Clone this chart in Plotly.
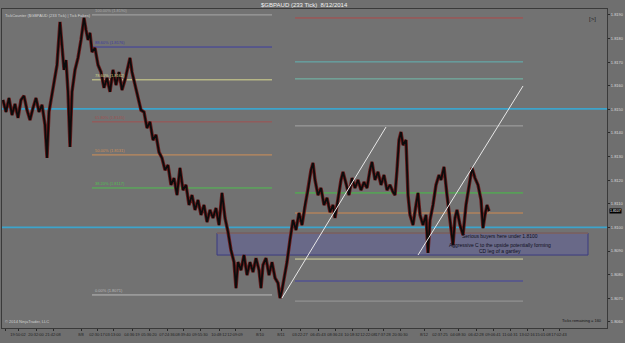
import plotly.graph_objects as go

# ---------------- data ----------------
bar_index = [1,4,7,10,13,16,19,22,25,28,31,34,37,40,43,45,47,50,53,55,58,60,62,64,66,68,70,73,76,79,82,84,86,88,90,93,96,99,102,105,108,111,114,117,120,123,126,128,130,133,136,139,142,145,148,151,154,157,160,163,166,169,172,175,178,181,184,187,190,193,196,199,202,205,208,211,214,217,220,223,226,229,232,234,236,239,242,245,248,251,254,257,259,261,264,267,270,273,276,278,280,282,285,288,291,294,297,300,303,306,309,311,313,316,319,322,325,328,331,333,336,339,341,344,347,350,353,356,359,362,365,368,370,373,376,379,382,385,388,391,393,395,397,399,401,404,406,408,411,414,416,418,421,424,426,428,431,434,437,439,442,445,448,451,453,455,458,461,464,467,470,473,476,479,481,483,485,487,488]
close = [1.81540,1.81489,1.81548,1.81476,1.81523,1.81464,1.81540,1.81557,1.81497,1.81455,1.81506,1.81548,1.81489,1.81519,1.81434,1.81294,1.81489,1.81561,1.81625,1.81688,1.81870,1.81773,1.81667,1.81709,1.81574,1.81341,1.81574,1.81667,1.81718,1.81794,1.81887,1.81836,1.81794,1.81824,1.81743,1.81760,1.81688,1.81658,1.81591,1.81633,1.81574,1.81667,1.81603,1.81658,1.81582,1.81625,1.81675,1.81718,1.81658,1.81603,1.81561,1.81497,1.81489,1.81421,1.81447,1.81370,1.81392,1.81319,1.81294,1.81243,1.81264,1.81180,1.81209,1.81137,1.81252,1.81158,1.81180,1.81095,1.81137,1.81074,1.81116,1.81053,1.81095,1.81023,1.81074,1.81040,1.81082,1.81010,1.81146,1.81040,1.80981,1.80904,1.80853,1.80743,1.80853,1.80819,1.80883,1.80798,1.80853,1.80811,1.80870,1.80819,1.80743,1.80841,1.80870,1.80798,1.80853,1.80786,1.80764,1.80701,1.80735,1.80777,1.80853,1.80947,1.81031,1.80989,1.81061,1.81010,1.81095,1.81158,1.81243,1.81273,1.81201,1.81137,1.81167,1.81095,1.81125,1.81065,1.81095,1.81040,1.81125,1.81201,1.81235,1.81180,1.81137,1.81209,1.81167,1.81201,1.81158,1.81192,1.81167,1.81243,1.81277,1.81201,1.81235,1.81180,1.81222,1.81158,1.81180,1.81150,1.81137,1.81243,1.81370,1.81404,1.81349,1.81370,1.81137,1.81053,1.81010,1.81095,1.81146,1.81053,1.81010,1.81053,1.80892,1.81031,1.81095,1.81180,1.81222,1.81201,1.81256,1.81137,1.81031,1.80925,1.81040,1.81074,1.81010,1.80968,1.81095,1.81180,1.81252,1.81209,1.81180,1.81116,1.80997,1.81053,1.81095,1.81069]

last_price = 1.81069

y_ticks = [1.8060,1.8070,1.8080,1.8090,1.8100,1.8110,1.8120,1.8130,1.8140,1.8150,1.8160,1.8170,1.8180,1.8190]
x_tick_pos = [3,16,34,51,79,95,111,130,147,165,181,198,217,233,258,279,298,316,333,350,366,381,398,422,438,456,474,491,508,525,541,557]
x_tick_labels = ["18:53","19:50:02","20:32:00","21:42:08","8/8","02:30:17","03:13:00","04:36:19","05:36:20","07:24:36","08:39:40","09:55:30","10:48:12","12:09:09","8/10","8/11","03:22:27","06:45:43","08:36:24","10:18:32","12:22:08","17:37:28","20:30:30","8/12","02:37:25","04:08:30","06:42:28","09:06:41","11:04:31","13:02:16","15:01:08","17:02:43"]

# Fibonacci retracement (left)
fib_left_pct = ["100.00%","88.60%","78.60%","61.80%","50.00%","38.20%","0.00%"]
fib_left_price = [1.81900,1.81764,1.81625,1.81447,1.81307,1.81167,1.80714]
fib_left_color = ["#a8a8a8","#3c3ca0","#d8d890","#a05050","#d09058","#50c050","#b8b8b8"]
fib_left_x = [90, 270]

# Projection levels (right)
fib_right_price = [1.81887,1.81701,1.81629,1.81430,1.81146,1.81061,1.80866,1.80773,1.80688]
fib_right_color = ["#b04848","#60b4b4","#70bcac","#a4a4a4","#44c044","#d08a50","#d8d8a0","#4040a0","#9a9a9a"]
fib_right_x = [293, 521]

# Full-width support/resistance
sr_levels = [1.81502, 1.81000]

# Demand zone
zone_x = [215, 586]
zone_price = [1.80883, 1.80976]

# Trend lines (x0, y0, x1, y1)
trend_x0 = [280, 416]
trend_y0 = [1.80701, 1.80883]
trend_x1 = [384, 521]
trend_y1 = [1.81425, 1.81599]

notes = ["Serious buyers here under 1.8100",
         "Aggressive C to the upside potentially forming",
         "CD leg of a gartley"]
note_x = [498, 498, 498]
note_price = [1.80962, 1.80925, 1.80900]

# ---------------- figure ----------------
fig = go.Figure()

shapes = []
shapes.append(dict(type="rect", xref="x", yref="y", x0=zone_x[0], x1=zone_x[1],
                   y0=zone_price[0], y1=zone_price[1],
                   fillcolor="rgba(85,85,190,0.30)", line=dict(color="#3a3a80", width=1), layer="below"))
shapes.append(dict(type="line", xref="x", yref="y", x0=zone_x[0], x1=zone_x[1],
                   y0=zone_price[1], y1=zone_price[1], line=dict(color="#9a704c", width=1), layer="below"))
for p in sr_levels:
    shapes.append(dict(type="line", xref="paper", yref="y", x0=0, x1=1, y0=p, y1=p,
                       line=dict(color="#3ca4cc", width=1.6), layer="below"))
for p, c in zip(fib_left_price, fib_left_color):
    shapes.append(dict(type="line", xref="x", yref="y", x0=fib_left_x[0], x1=fib_left_x[1], y0=p, y1=p,
                       line=dict(color=c, width=1), layer="below"))
for p, c in zip(fib_right_price, fib_right_color):
    shapes.append(dict(type="line", xref="x", yref="y", x0=fib_right_x[0], x1=fib_right_x[1], y0=p, y1=p,
                       line=dict(color=c, width=1), layer="below"))
for a, b, c, d in zip(trend_x0, trend_y0, trend_x1, trend_y1):
    shapes.append(dict(type="line", xref="x", yref="y", x0=a, y0=b, x1=c, y1=d,
                       line=dict(color="#e8e8e8", width=1), layer="above"))

fig.add_trace(go.Scatter(x=bar_index, y=close, mode="lines",
                         line=dict(color="#6a1c1c", width=3.4), hoverinfo="skip", showlegend=False))
fig.add_trace(go.Scatter(x=bar_index, y=close, mode="lines",
                         line=dict(color="#0c0c0c", width=1.8), showlegend=False))

annotations = []
for pct, p, c in zip(fib_left_pct, fib_left_price, fib_left_color):
    annotations.append(dict(x=fib_left_x[0] + 1, y=p, xref="x", yref="y", xanchor="left", yanchor="bottom",
                            text=f"{pct} ({p:.4f})", showarrow=False,
                            font=dict(size=4, color=c, family="Arial")))
for t, x, p in zip(notes, note_x, note_price):
    annotations.append(dict(x=x, y=p, xref="x", yref="y", xanchor="center", yanchor="middle",
                            text=t, showarrow=False, font=dict(size=5, color="#101020", family="Arial")))
annotations.append(dict(x=0.5, y=1, xref="paper", yref="paper", yanchor="bottom", xanchor="center",
                        text="$GBPAUD (233 Tick)  8/12/2014", showarrow=False, yshift=-1,
                        font=dict(size=6, color="#f0f0f0", family="Arial")))
annotations.append(dict(x=0.002, y=0.995, xref="paper", yref="paper", xanchor="left", yanchor="top",
                        text="TickCounter ($GBPAUD (233 Tick) | Tick Fakes)", showarrow=False,
                        font=dict(size=4, color="#d4d4d4", family="Arial")))
annotations.append(dict(x=0.002, y=0.005, xref="paper", yref="paper", xanchor="left", yanchor="bottom",
                        text="© 2014 NinjaTrader, LLC", showarrow=False,
                        font=dict(size=4, color="#d0d0d0", family="Arial")))
annotations.append(dict(x=0.995, y=0.01, xref="paper", yref="paper", xanchor="right", yanchor="bottom",
                        text="Ticks remaining = 160", showarrow=False,
                        font=dict(size=4, color="#151515", family="Arial")))
annotations.append(dict(x=0.985, y=0.985, xref="paper", yref="paper", xanchor="right", yanchor="top",
                        text="[>]", showarrow=False, font=dict(size=6, color="#222222", family="Arial")))
annotations.append(dict(x=1, y=last_price, xref="paper", yref="y", xanchor="left", yanchor="middle",
                        xshift=2, text=f"{last_price:.4f}", showarrow=False, bgcolor="#000000", borderpad=0,
                        font=dict(size=3.5, color="#ffffff", family="Arial")))

fig.update_layout(
    width=625, height=343,
    margin=dict(l=2, r=18, t=9, b=15),
    paper_bgcolor="#6f6f6f", plot_bgcolor="#727272",
    shapes=shapes, annotations=annotations, showlegend=False,
    xaxis=dict(range=[0, 605], tickvals=x_tick_pos, ticktext=x_tick_labels, showgrid=False, zeroline=False,
               showline=True, linecolor="#3a3a3a", linewidth=1, mirror=True, ticks="outside", ticklen=2,
               tickcolor="#2a2a2a", tickangle=0, tickfont=dict(size=4, color="#222222", family="Arial"),
               automargin=False, fixedrange=True),
    yaxis=dict(range=[1.80574, 1.81925], side="right", tickvals=y_ticks, tickformat=".4f",
               showgrid=False, zeroline=False, showline=True, linecolor="#3a3a3a", linewidth=1, mirror=True,
               ticks="outside", ticklen=2, tickcolor="#2a2a2a",
               tickfont=dict(size=4, color="#dadada", family="Arial"), automargin=False, fixedrange=True),
)

fig.write_html("out.html")
